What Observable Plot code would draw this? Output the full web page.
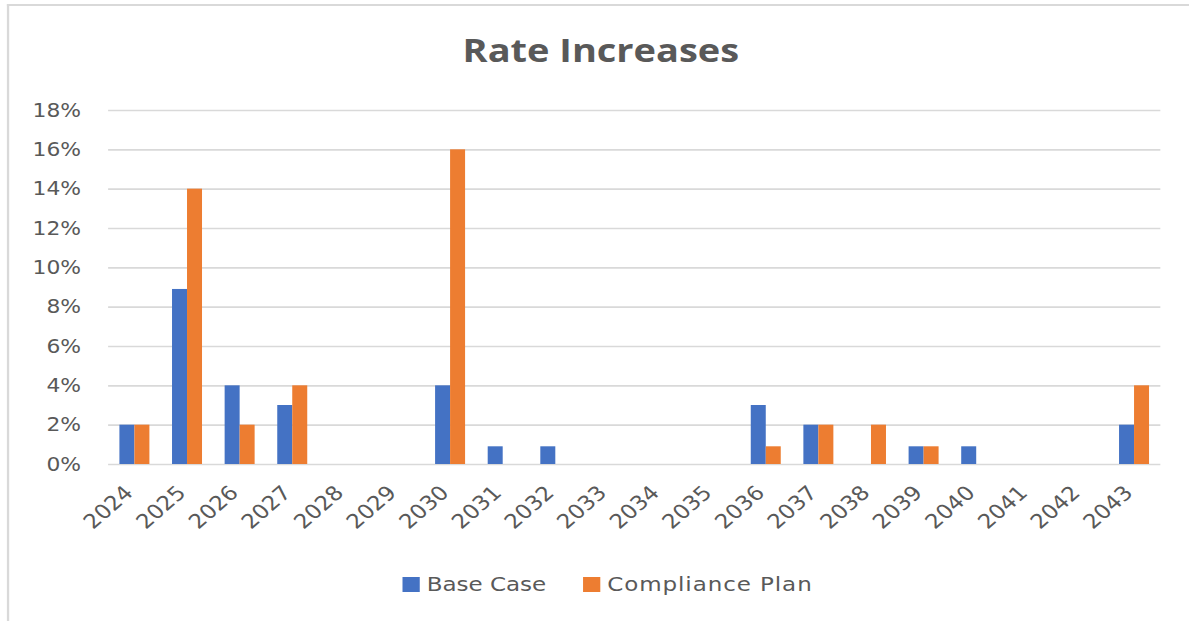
<!DOCTYPE html>
<html>
<head>
<meta charset="utf-8">
<script src="https://cdn.jsdelivr.net/npm/d3@7"></script>
<script src="https://cdn.jsdelivr.net/npm/@observablehq/plot@0.6"></script>
<style>
  html, body { margin: 0; padding: 0; background: #fff; overflow: hidden; }
  #outer { position: relative; width: 1189px; height: 621px; overflow: hidden; background: #fff; }
  #wrap { position: absolute; left: 0; top: 0; width: 1034px; height: 621px;
          transform: scaleX(1.15); transform-origin: 0 0; }
  #frame { position: absolute; left: 6px; top: 4px; width: 1300px; height: 700px;
           border-left: 2px solid #d9d9d9; border-top: 2px solid #d9d9d9; }
  #title { position: absolute; left: 0; width: 1045px; top: 32px; text-align: center;
           font-family: "Open Sans", sans-serif; font-weight: 700; font-size: 33px; line-height: 1.1; color: #595959; }
  #chart { position: absolute; left: 0; top: 80px; }
  #legend { position: absolute; top: 572px; left: 0; height: 24px; font-family: "DejaVu Sans", sans-serif;
            font-size: 20px; color: #595959; }
  .item { position: absolute; top: 0; white-space: nowrap; line-height: 24px; }
  .sw { position: absolute; top: 5px; width: 15px; height: 15px; }
</style>
</head>
<body>
<div id="outer">
<div id="wrap">
  <div id="frame"></div>
  <div id="title">Rate Increases</div>
  <div id="chart"></div>
  <div id="legend"></div>
</div>
</div>
<script>
const years = ["2024","2025","2026","2027","2028","2029","2030","2031","2032","2033",
               "2034","2035","2036","2037","2038","2039","2040","2041","2042","2043"];
const seriesNames = ["Base Case", "Compliance Plan"];
const seriesColors = ["#4472C4", "#ED7D31"];
const baseCase =       [2, 8.9, 4, 3, 0, 0, 4, 0.9, 0.9, 0, 0, 0, 3, 2, 0, 0.9, 0.9, 0, 0, 2];
const compliancePlan = [2, 14, 2, 4, 0, 0, 16, 0, 0, 0, 0, 0, 0.9, 2, 2, 0.9, 0, 0, 0, 4];
const yTicks = [0, 2, 4, 6, 8, 10, 12, 14, 16, 18];

const W = 1034, mL = 94, mR = 25, mT = 30, mB = 90, plotH = 354;
const padInner = 0.43, padOuter = padInner / 2;
const step = (W - mL - mR) / (years.length - padInner + 2 * padOuter);
const half = step * (1 - padInner) / 2;

const rows = [];
years.forEach((y, i) => {
  rows.push({year: y, series: seriesNames[0], value: baseCase[i]});
  rows.push({year: y, series: seriesNames[1], value: compliancePlan[i]});
});
const blue = rows.filter(d => d.series === seriesNames[0] && d.value > 0);
const orange = rows.filter(d => d.series === seriesNames[1] && d.value > 0);

const chart = Plot.plot({
  width: W,
  height: mT + plotH + mB,
  marginLeft: mL, marginRight: mR, marginTop: mT, marginBottom: mB,
  style: {fontFamily: "DejaVu Sans, sans-serif", fontSize: "19px", color: "#595959", background: "transparent"},
  x: {domain: years, type: "band", paddingInner: padInner, paddingOuter: padOuter, round: false, label: null},
  y: {domain: [0, 18], label: null},
  marks: [
    Plot.ruleY(yTicks, {stroke: "#d9d9d9", strokeWidth: 1.6}),
    Plot.barY(blue, {x: "year", y: "value", fill: seriesColors[0], insetRight: half, insetLeft: 0}),
    Plot.barY(orange, {x: "year", y: "value", fill: seriesColors[1], insetLeft: half, insetRight: 0}),
    Plot.axisY({ticks: yTicks, tickFormat: d => d + "%", tickSize: 0, tickPadding: 24, fill: "#595959", label: null}),
    Plot.axisX({tickRotate: -45, tickSize: 0, tickPadding: 25, dx: -5, fontSize: 20, fill: "#595959", label: null})
  ]
});
document.getElementById("chart").appendChild(chart);

const legend = document.getElementById("legend");
const legendX = [350, 507];
seriesNames.forEach((name, i) => {
  const item = document.createElement("div");
  item.className = "item";
  item.style.left = legendX[i] + "px";
  const sw = document.createElement("span");
  sw.className = "sw";
  sw.style.left = "0px";
  sw.style.background = seriesColors[i];
  const t = document.createElement("span");
  t.style.position = "absolute";
  t.style.left = "21px";
  t.style.letterSpacing = i === 1 ? "0.8px" : "0px";
  t.textContent = name;
  item.appendChild(sw);
  item.appendChild(t);
  legend.appendChild(item);
});
</script>
</body>
</html>
